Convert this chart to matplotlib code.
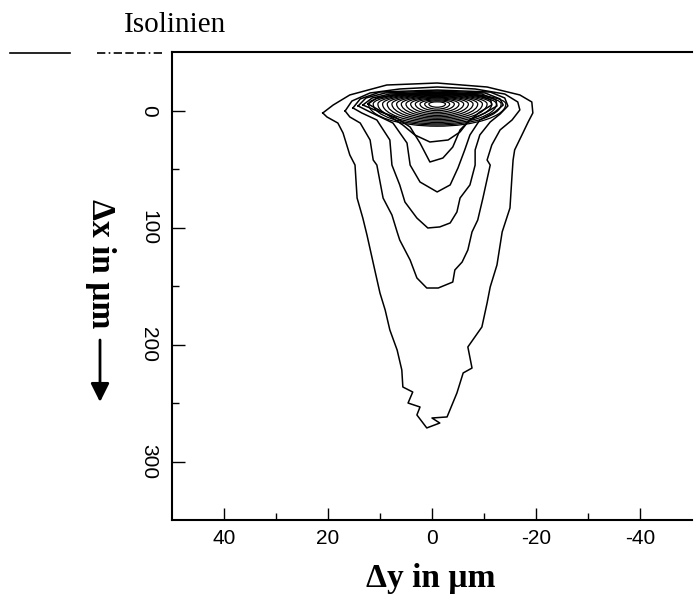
import numpy as np
import matplotlib
matplotlib.use("Agg")
import matplotlib.pyplot as plt
from matplotlib.patches import Arc, FancyArrowPatch
from matplotlib.lines import Line2D

# isoline outlines, (dy, dx) in um, outer -> inner
c1_y = [21.0, 19.0, 15.8, 8.7, -1.0, -10.6, -16.9, -19.2, -19.4, -18.5, -17.3, -15.9, -15.6, -15.4,
        -15.0, -13.5, -12.5, -11.2, -10.6, -9.6, -6.9, -7.7, -6.0, -4.8, -2.9, 0.0, -1.5, 1.0, 2.9,
        2.3, 4.6, 3.7, 5.6, 5.8, 6.7, 8.1, 9.0, 10.0, 11.0, 12.5, 13.3, 14.4, 14.8, 15.8, 17.1, 18.1, 20.2]
c1_x = [1.7, -5.1, -13.7, -22.2, -23.9, -20.5, -13.7, -7.7, 1.7, 9.4, 20.5, 33.3, 41.9, 54.7,
        82.9, 103.4, 131.6, 150.4, 164.1, 184.6, 201.7, 219.7, 223.9, 241.0, 261.5, 262.4, 266.7, 270.9, 259.8,
        253.0, 249.6, 240.2, 235.9, 221.4, 204.3, 187.2, 170.1, 155.6, 135.9, 106.0, 91.5, 74.4, 46.2, 37.6, 18.8, 10.3, 5.1]

c2_y = [16.7, 15.4, 11.9, 6.2, -1.0, -8.3, -14.0, -16.5, -16.9, -15.4, -13.1, -11.5, -10.6, -11.2, -9.8,
        -8.8, -7.7, -6.9, -5.8, -4.4, -4.0, -1.2, 1.0, 2.9, 4.2, 6.2, 6.7, 7.7, 9.4, 10.6, 11.3, 11.9, 13.8, 15.8]
c2_x = [0.0, -8.5, -15.4, -18.8, -20.5, -18.8, -14.5, -7.7, -0.9, 7.7, 16.2, 29.1, 41.9, 46.2, 74.4,
        93.2, 103.4, 118.8, 129.1, 135.9, 146.2, 151.3, 151.3, 142.7, 127.4, 110.3, 103.4, 88.9, 74.4, 46.2, 41.9, 24.8, 10.3, 5.1]

c3_y = [15.2, 13.8, 10.0, -1.0, -11.2, -14.0, -14.6, -13.1, -11.2, -9.2, -8.3, -8.3, -7.3, -5.4, -4.8,
        -3.5, -1.5, 0.8, 2.9, 5.2, 6.2, 7.7, 8.1, 10.6, 13.5]
c3_x = [-2.6, -10.3, -16.2, -17.9, -16.2, -11.1, -4.3, 2.6, 9.4, 20.5, 33.3, 46.2, 63.2, 74.4, 86.3,
        95.7, 99.1, 100.0, 91.5, 77.8, 63.2, 46.2, 24.8, 7.7, 1.7]

c4_y = [14.2, 12.7, 9.0, -1.0, -10.2, -13.1, -13.7, -12.1, -9.2, -7.3, -6.3, -5.0, -3.5, -1.0, 2.3, 4.2, 4.8, 7.5, 11.9]
c4_x = [-4.3, -11.1, -15.4, -17.1, -15.4, -10.3, -5.1, 0.9, 7.7, 20.5, 33.3, 48.7, 63.2, 69.2, 60.7, 46.2, 27.4, 10.3, 0.9]

c5_y = [13.3, 11.5, 8.1, -1.0, -9.6, -12.3, -12.5, -10.2, -7.3, -5.4, -4.0, -2.1, 0.4, 2.3, 4.2, 7.1, 11.0]
c5_x = [-5.1, -11.1, -14.5, -16.2, -14.5, -9.4, -4.3, 1.7, 7.7, 16.2, 30.8, 40.2, 43.6, 27.4, 13.7, 5.1, -0.9]

c6_y = [12.3, 10.6, 7.5, -1.0, -8.8, -11.3, -11.5, -9.2, -6.9, -5.4, -3.1, 0.4, 3.3, 5.6, 8.5]
c6_x = [-6.0, -11.1, -13.7, -15.4, -13.7, -9.4, -5.1, 0.9, 9.4, 17.9, 24.8, 26.5, 20.5, 12.0, 3.4]

outlines = [(c1_y, c1_x), (c2_y, c2_x), (c3_y, c3_x), (c4_y, c4_x), (c5_y, c5_x), (c6_y, c6_x)]

# dense rings around the peak: centre, half width, extent above / below the centre (um)
peak_y, peak_x = -1.0, -6.0
ring_halfwidth = [13.2, 12.3, 11.4, 10.5, 9.6, 8.7, 7.8, 6.9, 6.0, 5.1, 4.2, 3.3, 2.4, 1.6]
ring_top = [9.6, 9.2, 8.8, 8.4, 7.9, 7.4, 6.9, 6.3, 5.7, 5.0, 4.3, 3.5, 2.7, 1.8]
ring_bottom = [19.0, 18.0, 17.0, 15.8, 14.6, 13.4, 12.2, 11.0, 9.8, 8.5, 7.2, 5.8, 4.4, 2.8]

xticks = [40, 20, 0, -20, -40]
yticks = [0, 100, 200, 300]

fig = plt.figure(figsize=(6.96, 6.06), dpi=100)
ax = fig.add_axes([0.2471, 0.1411, 0.7471, 0.7723])

for ys, xs in outlines:
    ax.plot(ys + ys[:1], xs + xs[:1], color="black", lw=1.1)

for hw, top, bot in zip(ring_halfwidth, ring_top, ring_bottom):
    # y axis is inverted: theta 0..180 lies below the centre on screen
    ax.add_patch(Arc((peak_y, peak_x), 2 * hw, 2 * bot, theta1=0, theta2=180, color="black", lw=0.9))
    ax.add_patch(Arc((peak_y, peak_x), 2 * hw, 2 * top, theta1=180, theta2=360, color="black", lw=0.9))

ax.set_xlim(50, -50)
ax.set_ylim(350, -50)
ax.set_xticks(xticks)
ax.set_xticks([30, 10, -10, -30], minor=True)
ax.set_yticks(yticks)
ax.set_yticks([50, 150, 250], minor=True)
ax.set_xticklabels([str(v) for v in xticks])

ax.spines["right"].set_visible(False)
for s in ["left", "top", "bottom"]:
    ax.spines[s].set_linewidth(1.5)
ax.tick_params(which="major", direction="in", length=9, width=1.0, colors="black",
               labelsize=15, top=False, right=False)
ax.tick_params(which="minor", direction="in", length=5, width=1.0, top=False, right=False)
ax.tick_params(axis="x", pad=6)
ax.tick_params(axis="y", pad=10)
for lab in ax.get_xticklabels() + ax.get_yticklabels():
    lab.set_family("Liberation Sans")
for lab in ax.get_yticklabels():
    lab.set_rotation(-90)
    lab.set_va("center")

fig.text(175 / 696, 1 - 25 / 606, "Isolinien", family="Liberation Serif", fontsize=21,
         ha="center", va="center")
fig.text(431 / 696, 1 - 578 / 606, "\u0394y in \u00b5m", family=["Liberation Serif", "DejaVu Serif"],
         fontsize=24, fontweight="bold", ha="center", va="center")
fig.text(100 / 696, 1 - 264 / 606, "\u0394x in \u00b5m", family=["Liberation Serif", "DejaVu Serif"],
         fontsize=24, fontweight="bold", ha="center", va="center", rotation=-90)
fig.add_artist(FancyArrowPatch((100 / 696, 1 - 340 / 606), (100 / 696, 1 - 402 / 606),
                               transform=fig.transFigure, arrowstyle="-|>", mutation_scale=28,
                               lw=2, color="black", shrinkA=0, shrinkB=0))

# line samples left of the frame
yl = 1 - 53 / 606
fig.add_artist(Line2D([10 / 696, 70 / 696], [yl, yl], color="black", lw=1.2))
fig.add_artist(Line2D([97 / 696, 163 / 696], [yl, yl], color="black", lw=1.2,
                      linestyle=(0, (5, 2, 1, 2, 5, 2, 5, 2))))

fig.savefig("out.png", dpi=100)
